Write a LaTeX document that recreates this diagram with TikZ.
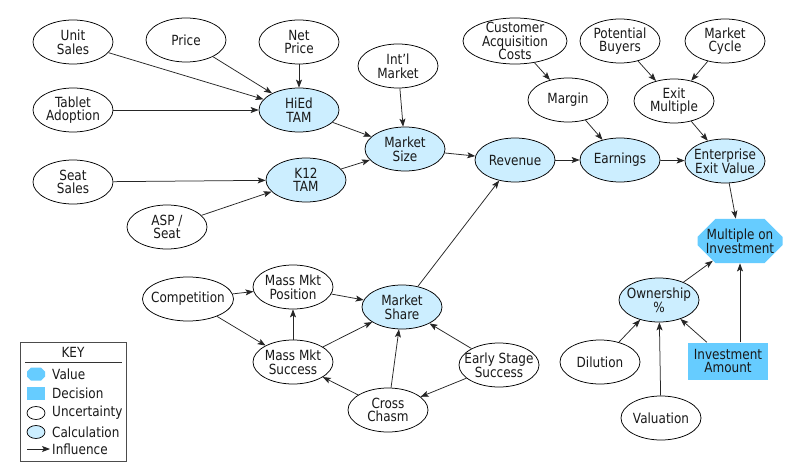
\documentclass[tikz,border=0pt]{standalone}
\usepackage{fontspec}
\setmainfont{DejaVu Sans}[FakeStretch=0.86]
\usetikzlibrary{shapes.geometric,shapes.misc,arrows.meta}
\definecolor{calc}{HTML}{CCEEFF}
\definecolor{valc}{HTML}{66CCFF}
\newcommand\fsz{\fontsize{14}{13.6}\selectfont}
\tikzset{
  unc/.style={ellipse, draw=black, line width=0.75pt, minimum width=80pt, minimum height=44pt,
    inner xsep=-12pt, inner ysep=-8pt, align=center, text=black!90},
  calcn/.style={unc, fill=calc},
  valn/.style={chamfered rectangle, chamfered rectangle xsep=8pt, chamfered rectangle ysep=10pt,
    fill=valc, minimum width=85pt, minimum height=44pt, inner sep=0pt, align=center, text=black!90},
  dec/.style={rectangle, fill=valc, minimum width=80pt, minimum height=37pt, inner sep=0pt, align=center, text=black!90},
  arr/.style={-{Stealth[length=8pt,width=6pt,inset=1.8pt]}, line width=0.75pt, draw=black!85},
  keytxt/.style={anchor=west, inner sep=0pt, text=black!90},
}
\begin{document}
\begin{tikzpicture}[x=1pt,y=-1pt,font=\fsz]
\useasboundingbox[fill=white] (0,0) rectangle (800,476);
% nodes
\node[unc] (unit) at (73,42) {Unit\\Sales};
\node[unc] (price) at (186,40) {Price};
\node[unc] (net) at (299,42) {Net\\Price};
\node[unc] (intl) at (398,66) {Int’l\\Market};
\node[unc] (tab) at (73,110) {Tablet\\Adoption};
\node[calcn] (hied) at (299,110) {HiEd\\TAM};
\node[calcn] (msize) at (405,149) {Market\\Size};
\node[unc] (seat) at (73,182) {Seat\\Sales};
\node[calcn] (k12) at (306,180) {K12\\TAM};
\node[unc] (asp) at (167,227) {ASP /\\Seat};
\node[unc, minimum width=104pt, minimum height=46pt] (cac) at (515,41) {Customer\\Acquisition\\Costs};
\node[unc] (pot) at (620,41) {Potential\\Buyers};
\node[unc] (cycle) at (725,41) {Market\\Cycle};
\node[unc] (margin) at (568,100) {Margin};
\node[unc] (exitm) at (674,101) {Exit\\Multiple};
\node[calcn] (rev) at (515,160) {Revenue};
\node[calcn] (earn) at (620,160) {Earnings};
\node[calcn] (eev) at (725,161) {Enterprise\\Exit Value};
\node[valn] (moi) at (740,241) {Multiple on\\Investment};
\node[calcn] (own) at (659,300) {Ownership\\\%};
\node[dec] (inv) at (728,361) {Investment\\Amount};
\node[unc] (dil) at (600,362) {Dilution};
\node[unc] (valu) at (661,418) {Valuation};
\node[unc, minimum width=91pt] (comp) at (188,299) {Competition};
\node[unc] (mmp) at (293,287) {Mass Mkt\\Position};
\node[calcn] (mshare) at (402,307) {Market\\Share};
\node[unc] (mms) at (293,362) {Mass Mkt\\Success};
\node[unc] (ess) at (499,365) {Early Stage\\Success};
\node[unc] (cross) at (388,410) {Cross\\Chasm};
% edges
\draw[arr] (unit) -- (hied);
\draw[arr] (price) -- (hied);
\draw[arr] (net) -- (hied);
\draw[arr] (tab) -- (hied);
\draw[arr] (hied) -- (msize);
\draw[arr] (intl) -- (msize);
\draw[arr] (seat) -- (k12);
\draw[arr] (asp) -- (k12);
\draw[arr] (k12) -- (msize);
\draw[arr] (msize) -- (rev);
\draw[arr] (mshare) -- (rev);
\draw[arr] (rev) -- (earn);
\draw[arr] (cac) -- (margin);
\draw[arr] (margin) -- (earn);
\draw[arr] (earn) -- (eev);
\draw[arr] (pot) -- (exitm);
\draw[arr] (cycle) -- (exitm);
\draw[arr] (exitm) -- (eev);
\draw[arr] (eev) -- (moi);
\draw[arr] (own) -- (moi);
\draw[arr] (inv.north -| moi.south) -- (moi.south);
\draw[arr] (inv) -- (own);
\draw[arr] (dil) -- (own);
\draw[arr] (valu) -- (own);
\draw[arr] (comp) -- (mmp);
\draw[arr] (comp) -- (mms);
\draw[arr] (mms) -- (mmp);
\draw[arr] (mmp) -- (mshare);
\draw[arr] (mms) -- (mshare);
\draw[arr] (cross) -- (mms);
\draw[arr] (cross) -- (mshare);
\draw[arr] (ess) -- (mshare);
\draw[arr] (ess) -- (cross);
% key
\node[draw=black!70, line width=0.6pt, minimum width=106pt, minimum height=119pt, inner sep=0pt, anchor=north west] (keybox) at (20,342) {};
\node[text=black!90] (keyt) at (73,352) {KEY};
\draw[line width=0.6pt, black!80] (25,362) -- (122,362);
\fill[valc, shift={(36,374)}] (-9,-2.5) -- (-9,2.5) -- (-5,6.5) -- (5,6.5) -- (9,2.5) -- (9,-2.5) -- (5,-6.5) -- (-5,-6.5) -- cycle;
\node[dec, minimum width=18pt, minimum height=13pt] (kd) at (36,393) {};
\node[ellipse, draw=black, line width=0.7pt, minimum width=18pt, minimum height=13pt, inner sep=0pt] (ku) at (36,413) {};
\node[ellipse, draw=black, line width=0.7pt, fill=calc, minimum width=18pt, minimum height=13pt, inner sep=0pt] (kc) at (36,432) {};
\coordinate (ka) at (27,449);
\coordinate (kb) at (50,449);
\draw[arr] (ka) -- (kb);
\node[keytxt] at (52,374) {Value};
\node[keytxt] at (52,393) {Decision};
\node[keytxt] at (52,413) {Uncertainty};
\node[keytxt] at (52,432) {Calculation};
\node[keytxt] at (52,449) {Influence};
\end{tikzpicture}
\end{document}
